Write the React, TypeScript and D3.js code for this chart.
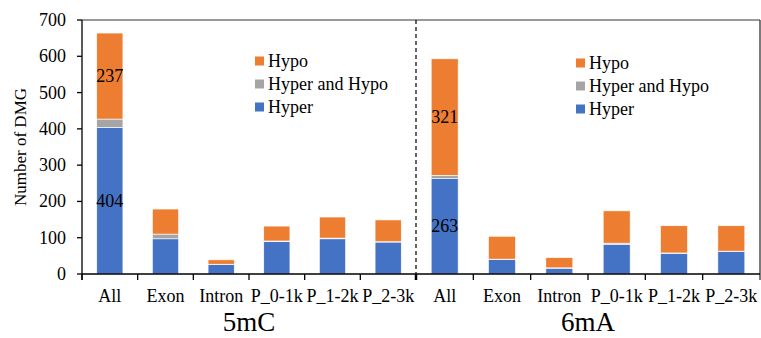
import React from "react";
import * as d3 from "d3";

const categories = ["All", "Exon", "Intron", "P_0-1k", "P_1-2k", "P_2-3k"];
const groups = ["5mC", "6mA"];
const hyper5mC = [404, 97, 26, 89, 97, 88];
const both5mC = [23, 13, 1, 2, 2, 1];
const hypo5mC = [237, 69, 12, 41, 58, 60];
const hyper6mA = [263, 40, 16, 82, 57, 62];
const both6mA = [9, 1, 1, 3, 1, 1];
const hypo6mA = [321, 63, 28, 89, 75, 70];
const yTicks = [0, 100, 200, 300, 400, 500, 600, 700];
const seriesNames = ["Hyper", "Hyper and Hypo", "Hypo"];
const colors = ["#4472C4", "#A5A5A5", "#ED7D31"];

const W = 761;
const H = 338;
const left = 82;
const mid = 416;
const right = 760;
const top = 20;
const bottom = 274;
const font = "'Liberation Serif', 'Times New Roman', serif";

export default function App() {
  const y = d3.scaleLinear().domain([0, 700]).range([bottom, top]);
  const xs = [
    d3.scaleBand<string>().domain(categories).range([left, mid]).padding(0),
    d3.scaleBand<string>().domain(categories).range([mid, right]).padding(0),
  ];
  const data = [
    [hyper5mC, both5mC, hypo5mC],
    [hyper6mA, both6mA, hypo6mA],
  ];
  const stack = d3.stack<number>().keys(["0", "1", "2"]);

  return (
    <svg width={W} height={H} style={{ position: "absolute", left: 0, top: 0, background: "#fff" }}>
      <rect x={0} y={0} width={W} height={H} fill="#fff" />
      {groups.map((g, gi) => {
        const x = xs[gi];
        const rows = categories.map((_, ci) => ({
          "0": data[gi][0][ci],
          "1": data[gi][1][ci],
          "2": data[gi][2][ci],
        }));
        const stacked = stack(rows as any);
        const bw = x.bandwidth() * 0.47;
        return (
          <g key={g}>
            {stacked.map((layer, si) =>
              layer.map((d, ci) => {
                const cx = (x(categories[ci]) as number) + x.bandwidth() / 2;
                return (
                  <rect
                    key={`${si}-${ci}`}
                    x={cx - bw / 2}
                    y={y(d[1])}
                    width={bw}
                    height={Math.max(0, y(d[0]) - y(d[1]))}
                    fill={colors[si]}
                    stroke="#fff"
                    strokeWidth={0.6}
                  />
                );
              })
            )}
            {[0, 2].map((si) => {
              const d = stacked[si][0];
              const cx = (x(categories[0]) as number) + x.bandwidth() / 2;
              return (
                <text
                  key={`lbl${si}`}
                  x={cx}
                  y={(y(d[0]) + y(d[1])) / 2}
                  textAnchor="middle"
                  dominantBaseline="central"
                  fontFamily={font}
                  fontSize={18}
                  fill="#000"
                >
                  {data[gi][si][0]}
                </text>
              );
            })}
            {categories.map((c) => (
              <text
                key={`xl${c}`}
                x={(x(c) as number) + x.bandwidth() / 2}
                y={302}
                textAnchor="middle"
                fontFamily={font}
                fontSize={18}
                fill="#000"
              >
                {c}
              </text>
            ))}
            {categories.map((c) => (
              <line
                key={`xt${c}`}
                x1={x(c) as number}
                x2={x(c) as number}
                y1={bottom}
                y2={bottom + 6}
                stroke="#000"
                strokeWidth={1.3}
              />
            ))}
            <text
              x={(x.range()[0] + x.range()[1]) / 2}
              y={331}
              textAnchor="middle"
              fontFamily={font}
              fontSize={27}
              fill="#000"
            >
              {g}
            </text>
            {seriesNames
              .map((n, i) => ({ n, i }))
              .reverse()
              .map(({ n, i }, k) => {
                const lx = gi === 0 ? 255 : 576;
                const ly = (gi === 0 ? 61 : 63) + k * 23;
                return (
                  <g key={`lg${n}`}>
                    <rect x={lx} y={ly - 4.5} width={9} height={9} fill={colors[i]} />
                    <text
                      x={lx + 13}
                      y={ly}
                      dominantBaseline="central"
                      fontFamily={font}
                      fontSize={18}
                      fill="#000"
                    >
                      {n}
                    </text>
                  </g>
                );
              })}
          </g>
        );
      })}
      <line x1={left} x2={right} y1={top} y2={top} stroke="#333" strokeWidth={1} />
      <line x1={right} x2={right} y1={top} y2={bottom + 6} stroke="#333" strokeWidth={1.3} />
      <line x1={left} x2={left} y1={top} y2={bottom + 6} stroke="#000" strokeWidth={1.3} />
      <line x1={left} x2={right} y1={bottom} y2={bottom} stroke="#000" strokeWidth={1.3} />
      <line x1={mid} x2={mid} y1={top} y2={bottom} stroke="#000" strokeWidth={1.2} strokeDasharray="4,3" />
      <line x1={mid} x2={mid} y1={bottom} y2={bottom + 6} stroke="#000" strokeWidth={2.5} />
      {yTicks.map((t) => (
        <g key={`yt${t}`}>
          <line x1={left - 5} x2={left} y1={y(t)} y2={y(t)} stroke="#000" strokeWidth={1.3} />
          <text
            x={66}
            y={y(t)}
            textAnchor="end"
            dominantBaseline="central"
            fontFamily={font}
            fontSize={18}
            fill="#000"
          >
            {t}
          </text>
        </g>
      ))}
      <text
        transform={`translate(20,${(top + bottom) / 2}) rotate(-90)`}
        textAnchor="middle"
        dominantBaseline="central"
        fontFamily={font}
        fontSize={17}
        fill="#000"
      >
        Number of DMG
      </text>
    </svg>
  );
}
